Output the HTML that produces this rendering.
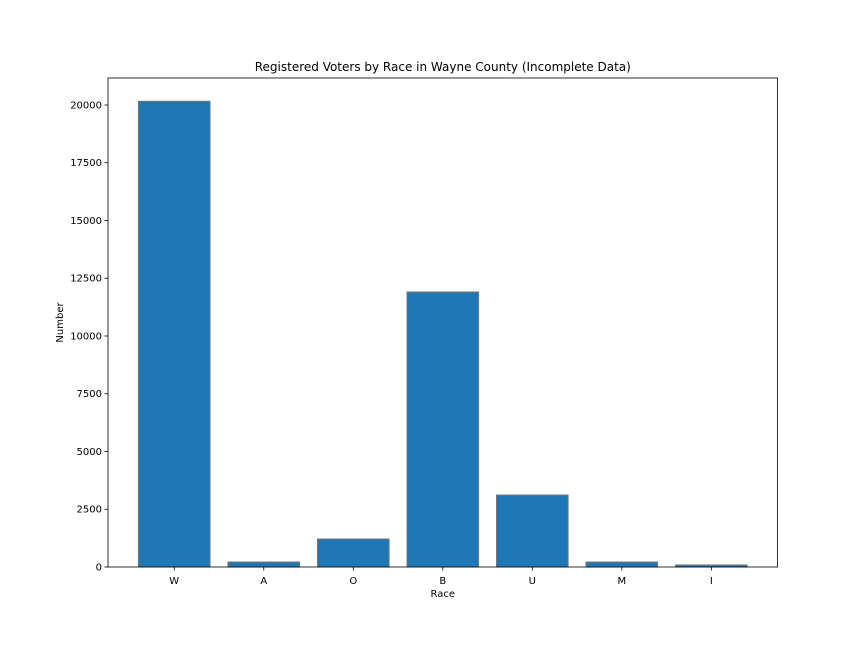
<!DOCTYPE html>
<html><head><meta charset="utf-8"><style>
body{margin:0;background:#fff}
svg text{font-family:"DejaVu Sans","Liberation Sans",sans-serif;font-size:10px;fill:#000}
</style></head><body>
<svg id="c" width="864" height="648" xmlns="http://www.w3.org/2000/svg"></svg>
<script>
const categories=["W","A","O","B","U","M","I"];
const values=[20160,216,1212,11905,3117,216,87];
const yTicks=[0,2500,5000,7500,10000,12500,15000,17500,20000];
const L=108,R=777.6,T=78,B=567;
const ymax=Math.max(...values)*1.05;
const xmin=-0.74,xmax=categories.length-1+0.74;
const x=i=>L+(i-xmin)/(xmax-xmin)*(R-L);
const y=v=>B-v/ymax*(B-T);
const svg=document.getElementById('c');
const NS='http://www.w3.org/2000/svg';
function mk(tag,attrs,parent){const e=document.createElementNS(NS,tag);for(const k in attrs)e.setAttribute(k,attrs[k]);(parent||svg).appendChild(e);return e;}
const bw=0.8*(x(1)-x(0));
categories.forEach((c,i)=>{
  const r=mk('rect',{x:x(i)-bw/2,y:y(values[i]),width:bw,height:B-y(values[i]),fill:'#1f77b4',stroke:'#777','stroke-width':1});
  
  
  const t=mk('line',{x1:x(i),x2:x(i),y1:B,y2:B+3.5,stroke:'#000','stroke-width':0.8});
  
  
  const l=mk('text',{x:x(i),y:B+17,'text-anchor':'middle'});
  l.textContent=c;
  
  
});
yTicks.forEach(v=>{
  const t=mk('line',{x1:L-3.5,x2:L,y1:y(v),y2:y(v),stroke:'#000','stroke-width':0.8});
  
  
  const l=mk('text',{x:L-6,y:y(v)+3.5,'text-anchor':'end'});
  l.textContent=v;
  
  
});
const f=mk('rect',{x:L,y:T,width:R-L,height:B-T,fill:'none',stroke:'#000','stroke-width':0.8});


const ti=mk('text',{x:(L+R)/2,y:T-7,'text-anchor':'middle',style:'font-size:12px'});
ti.textContent='Registered Voters by Race in Wayne County (Incomplete Data)';


const xt=mk('text',{x:(L+R)/2,y:B+30,'text-anchor':'middle'});
xt.textContent='Race';


const yt=mk('text',{x:63,y:(T+B)/2,'text-anchor':'middle',transform:`rotate(-90 63 ${(T+B)/2})`});
yt.textContent='Number';


</script>
</body></html>
